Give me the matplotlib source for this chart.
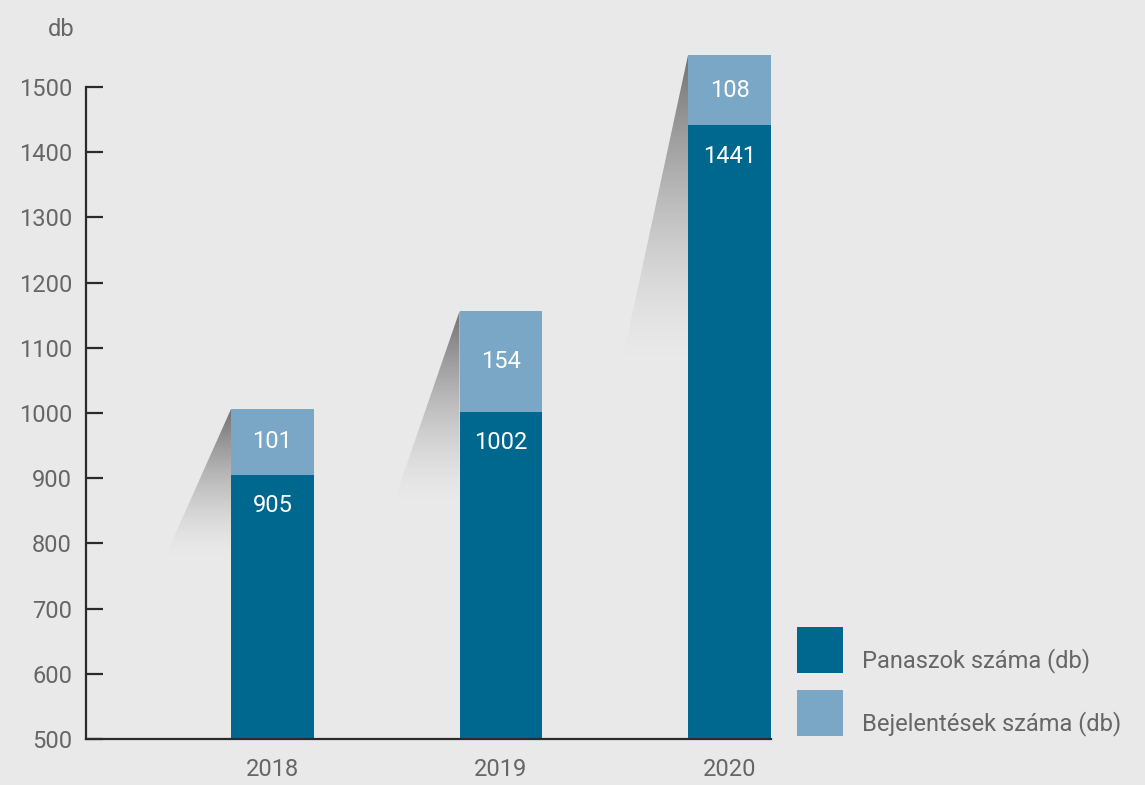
import matplotlib
matplotlib.use('Agg')
import matplotlib.pyplot as plt
import numpy as np
from matplotlib.patches import Polygon, Rectangle

years = ['2018', '2019', '2020']
panaszok = [905, 1002, 1441]
bejelentesek = [101, 154, 108]
legend_labels = ['Panaszok száma (db)', 'Bejelentések száma (db)']
yticks = [500, 600, 700, 800, 900, 1000, 1100, 1200, 1300, 1400, 1500]

bg = '#e8e9e8'
dark = '#00688f'
light = '#7aa7c6'
txt = '#666666'

plt.rcParams['font.family'] = ['Roboto', 'DejaVu Sans']

W, H = 1145, 785
fig = plt.figure(figsize=(W / 100, H / 100), dpi=100, facecolor=bg)
ax = fig.add_axes([86 / W, 46 / H, 685 / W, 699 / H])
ax.set_facecolor(bg)

x = np.arange(len(years))
width = 0.363
base = 500

# decorative gradient shadow to the left of each bar
grad = np.linspace(0, 1, 256).reshape(-1, 1)
for xi, p, b in zip(x, panaszok, bejelentesek):
    top = p + b
    left = xi - width / 2
    length = 0.45 * (top - base)
    dx = 0.29
    img = np.zeros((256, 2, 4))
    img[..., :3] = 0.42
    img[..., 3] = (grad[::-1] ** 1.5) * 0.95
    poly = Polygon([(left, top), (left - dx, top - length), (left, top - length)],
                   closed=True, facecolor='none', edgecolor='none')
    ax.add_patch(poly)
    im = ax.imshow(img, extent=(left - dx, left, top - length, top), origin='upper',
                   aspect='auto', interpolation='bilinear', zorder=1)
    im.set_clip_path(poly)

ax.bar(x, [p - base for p in panaszok], width, bottom=base, color=dark, zorder=2)
ax.bar(x, bejelentesek, width, bottom=panaszok, color=light, zorder=2)

for xi, p, b in zip(x, panaszok, bejelentesek):
    ax.text(xi, p + b / 2, str(b), ha='center', va='center', color='white',
            fontsize=17, zorder=3)
    ax.annotate(str(p), xy=(xi, p), xytext=(0, -31), textcoords='offset pixels',
                ha='center', va='center', color='white', fontsize=17, zorder=3)

ax.set_xlim(-0.816, 2 + width / 2)
ax.set_ylim(base, 1572)
ax.set_yticks(yticks)
ax.set_xticks(x)
ax.set_xticklabels(years)

for s in ['top', 'right']:
    ax.spines[s].set_visible(False)
ax.spines['left'].set_bounds(500, 1500)
for s in ['left', 'bottom']:
    ax.spines[s].set_color('#2b2b2b')
    ax.spines[s].set_linewidth(1.6)
    ax.spines[s].set_zorder(4)

ax.tick_params(axis='y', direction='in', length=12, width=1.6, color='#2b2b2b',
               labelsize=17, labelcolor=txt, pad=10)
ax.tick_params(axis='x', length=0, labelsize=17, labelcolor=txt, pad=14)

fig.text(61 / W, 1 - 30 / H, 'db', ha='center', va='center', fontsize=17, color=txt)

# legend
for i, (lab, col) in enumerate(zip(legend_labels, [dark, light])):
    y0 = 627 + i * 63
    fig.add_artist(Rectangle((797 / W, 1 - (y0 + 46) / H), 46 / W, 46 / H,
                             transform=fig.transFigure, facecolor=col, edgecolor='none'))
    fig.text(862 / W, 1 - (y0 + 34) / H, lab, ha='left', va='center',
             fontsize=17, color=txt)

fig.savefig('out.png', dpi=100, facecolor=bg)
